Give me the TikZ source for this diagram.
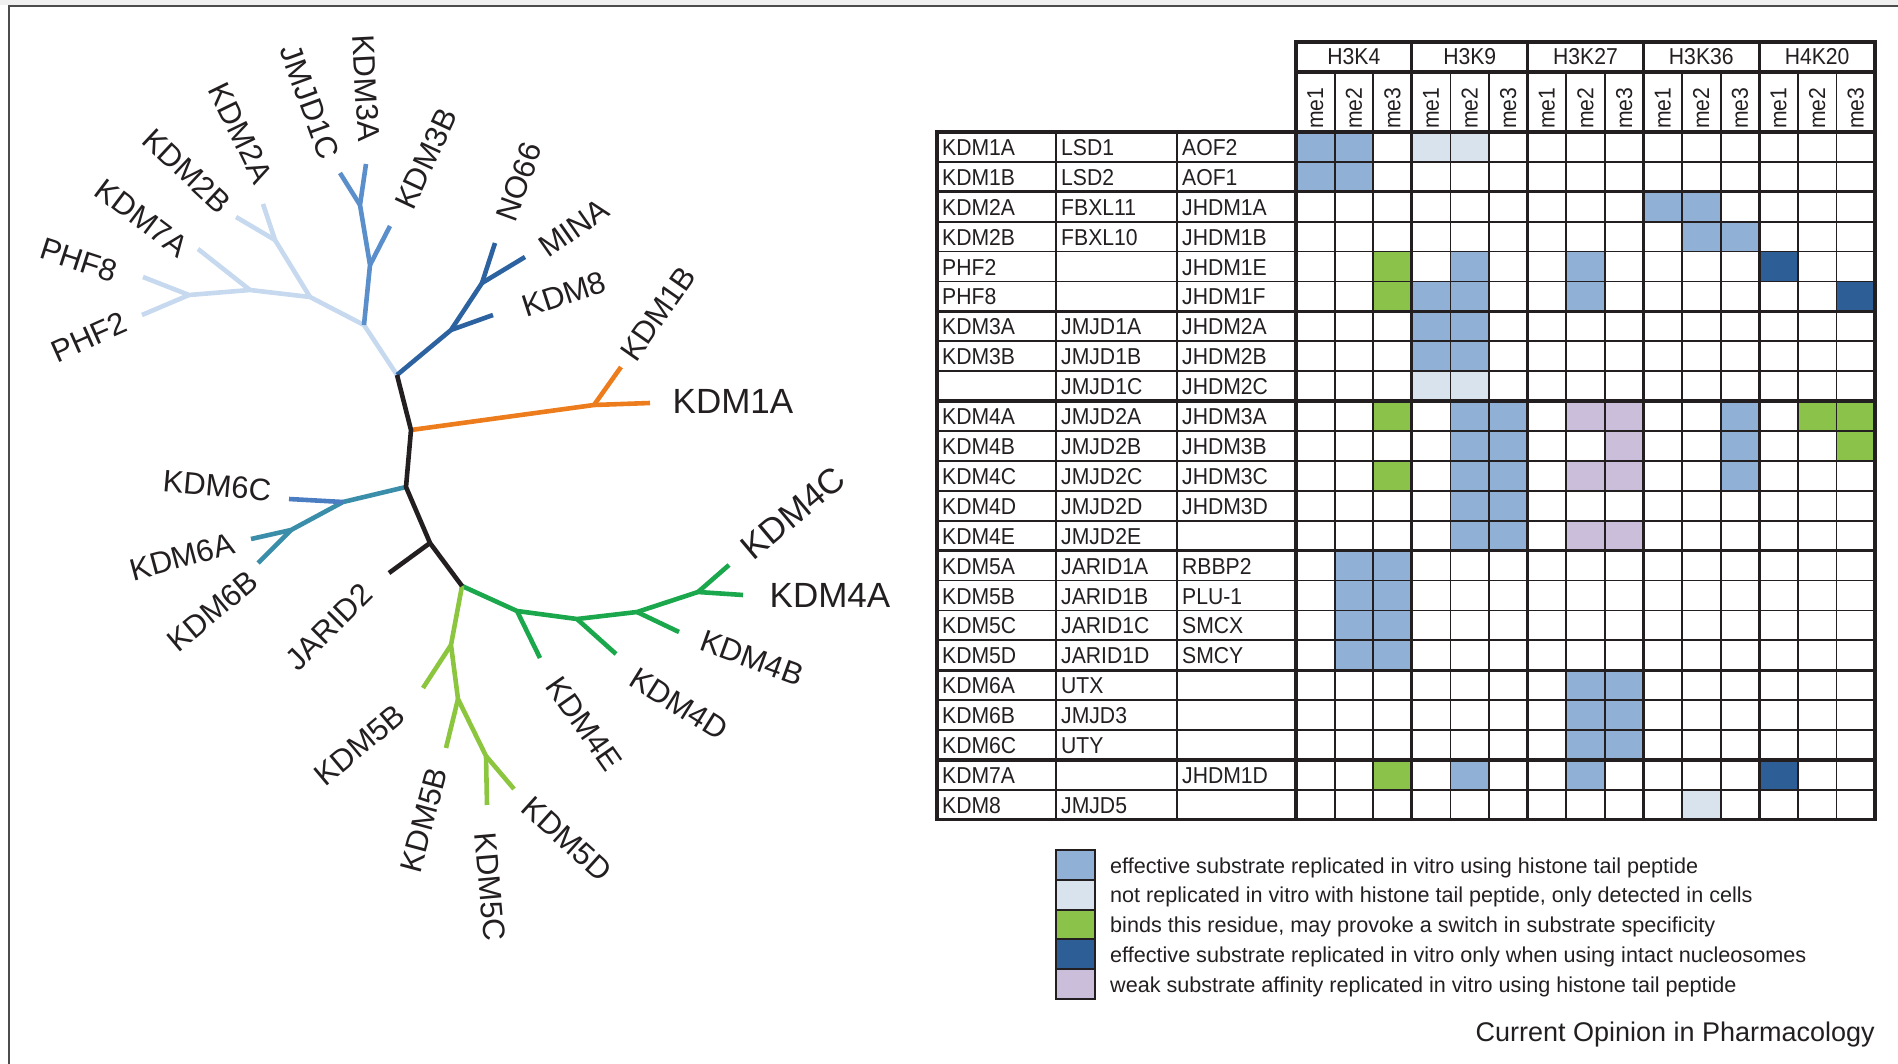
\documentclass[tikz,border=0pt]{standalone}
\usepackage{fontspec}
\setmainfont{Liberation Sans}
\newfontfamily\tabfont[FakeStretch=0.92]{Liberation Sans}

\definecolor{treeblack}{HTML}{231F20}
\definecolor{lblue}{HTML}{C6D9EF}
\definecolor{mblue}{HTML}{5B8FCB}
\definecolor{dblue}{HTML}{2C62A0}
\definecolor{orng}{HTML}{EC7C1C}
\definecolor{teal6}{HTML}{3A8EA9}
\definecolor{blue6}{HTML}{4A7DC2}
\definecolor{dgreen}{HTML}{1BA84D}
\definecolor{lgreen}{HTML}{8CC63F}
\definecolor{cellB}{HTML}{90B0D6}
\definecolor{cellL}{HTML}{D9E3EE}
\definecolor{cellG}{HTML}{8BC34A}
\definecolor{cellD}{HTML}{2D5F96}
\definecolor{cellP}{HTML}{CBBEDB}

\tikzset{
  branch/.style={line width=4.6pt, line join=round},
  leaflabel/.style={font=\fontsize{31}{31}\selectfont, inner sep=0pt, text=treeblack},
  biglabel/.style={leaflabel, font=\fontsize{35}{35}\selectfont},
  celltext/.style={font=\tabfont\fontsize{23}{23}\selectfont, anchor=base west, inner sep=0pt, text=treeblack},
  melabel/.style={celltext, anchor=west, rotate=90},
  grouplabel/.style={celltext, anchor=center},
  gridthin/.style={line width=1.8pt, treeblack},
  gridthick/.style={line width=3.2pt, treeblack, line cap=rect},
  swatch/.style={line width=2pt, draw=treeblack},
  legtext/.style={font=\fontsize{21.6}{22}\selectfont, anchor=base west, inner sep=0pt, text=treeblack}
}

\begin{document}
\begin{tikzpicture}[x=1pt,y=-1pt]
  \useasboundingbox (0,0) rectangle (1898,1064);
  \fill[gray!12] (0,0) rectangle (1898,5);
  \draw[line width=2pt, gray!60!black] (8.5,1064) -- (8.5,6) -- (1898,6);

  % tree: junctions and leaf ends
  \coordinate (b0) at (397,375);   \coordinate (b1) at (411,430);
  \coordinate (b2) at (406,487);   \coordinate (b3) at (430,543);
  \coordinate (b4) at (462,586);   \coordinate (jarid2) at (389,573);
  \coordinate (lb1) at (364,325);  \coordinate (lb2) at (310,297);
  \coordinate (lb3) at (250,290);  \coordinate (phf) at (189,295);
  \coordinate (phf8) at (143,277); \coordinate (phf2) at (142,315);
  \coordinate (kdm7a) at (198,249);
  \coordinate (j2) at (275,240);   \coordinate (kdm2a) at (263,204);
  \coordinate (kdm2b) at (236,217);
  \coordinate (m1) at (370,265);   \coordinate (m2) at (360,205);
  \coordinate (kdm3a) at (366,164); \coordinate (jmjd1c) at (340,173);
  \coordinate (kdm3b) at (390,226);
  \coordinate (d1) at (451,330);   \coordinate (d2) at (482,283);
  \coordinate (kdm8) at (493,315); \coordinate (no66) at (495,243);
  \coordinate (mina) at (525,257);
  \coordinate (o1) at (594,405);   \coordinate (kdm1a) at (650,403);
  \coordinate (kdm1b) at (621,367);
  \coordinate (t1) at (343,502);   \coordinate (t2) at (291,530);
  \coordinate (kdm6a) at (251,539); \coordinate (kdm6b) at (258,563);
  \coordinate (kdm6c) at (289,499);
  \coordinate (g1) at (517,611);   \coordinate (g2) at (577,619);
  \coordinate (g3) at (637,612);   \coordinate (g4) at (698,592);
  \coordinate (kdm4a) at (743,595); \coordinate (kdm4c) at (729,565);
  \coordinate (kdm4b) at (679,632); \coordinate (kdm4d) at (616,654);
  \coordinate (kdm4e) at (540,658);
  \coordinate (k1) at (451,645);   \coordinate (k2) at (458,699);
  \coordinate (k3) at (486,756);   \coordinate (kdm5c) at (487,805);
  \coordinate (kdm5d) at (514,789); \coordinate (kdm5bb) at (446,748);
  \coordinate (kdm5ba) at (423,688);

  \draw[branch, lblue] (b0) -- (lb1) -- (lb2) -- (lb3) -- (phf) -- (phf8);
  \draw[branch, lblue] (phf) -- (phf2);
  \draw[branch, lblue] (lb3) -- (kdm7a);
  \draw[branch, lblue] (lb2) -- (j2) -- (kdm2a);
  \draw[branch, lblue] (j2) -- (kdm2b);
  \draw[branch, mblue] (lb1) -- (m1) -- (m2) -- (kdm3a);
  \draw[branch, mblue] (m2) -- (jmjd1c);
  \draw[branch, mblue] (m1) -- (kdm3b);
  \draw[branch, dblue] (b0) -- (d1) -- (d2) -- (no66);
  \draw[branch, dblue] (d1) -- (kdm8);
  \draw[branch, dblue] (d2) -- (mina);
  \draw[branch, orng] (b1) -- (o1) -- (kdm1a);
  \draw[branch, orng] (o1) -- (kdm1b);
  \draw[branch, teal6] (b2) -- (t1) -- (t2) -- (kdm6a);
  \draw[branch, teal6] (t2) -- (kdm6b);
  \draw[branch, blue6] (t1) -- (kdm6c);
  \draw[branch, dgreen] (b4) -- (g1) -- (g2) -- (g3) -- (g4) -- (kdm4a);
  \draw[branch, dgreen] (g4) -- (kdm4c);
  \draw[branch, dgreen] (g3) -- (kdm4b);
  \draw[branch, dgreen] (g2) -- (kdm4d);
  \draw[branch, dgreen] (g1) -- (kdm4e);
  \draw[branch, lgreen] (b4) -- (k1) -- (k2) -- (k3) -- (kdm5c);
  \draw[branch, lgreen] (k3) -- (kdm5d);
  \draw[branch, lgreen] (k2) -- (kdm5bb);
  \draw[branch, lgreen] (k1) -- (kdm5ba);
  \draw[branch, treeblack] (b0) -- (b1) -- (b2) -- (b3) -- (b4);
  \draw[branch, treeblack] (b3) -- (jarid2);

  % leaf names
  \foreach \n/\x/\y/\a in {PHF8/79/260/-18, PHF2/89/337/24, KDM7A/142/218/-37,
      KDM2B/187/171/-43, KDM2A/241/133/-64, JMJD1C/310/102/-70, KDM3A/366/88/-87,
      KDM3B/426/159/65, NO66/519/182/70, MINA/574/228/35, KDM8/564/294/18,
      KDM1B/658/314/55, KDM6C/217/486/-5, KDM6A/182/557/15, KDM6B/213/611/40,
      JARID2/329/627/45, KDM4B/752/658/-20, KDM4D/679/704/-32, KDM4E/584/724/-55,
      KDM5D/567/839/-42, KDM5C/490/887/-85}
    \node[leaflabel, rotate=\a] (lab\n) at (\x,\y) {\n};
  \node[leaflabel, rotate=40] (labKDM5Ba) at (360,745) {KDM5B};
  \node[leaflabel, rotate=75] (labKDM5Bb) at (424,820) {KDM5B};
  \node[biglabel] (labKDM1A) at (733,401) {KDM1A};
  \node[biglabel] (labKDM4A) at (830,595) {KDM4A};
  \node[biglabel, rotate=40] (labKDM4C) at (793,513) {KDM4C};

  % table cells: row/column/colour
  \foreach \r/\c/\f in {1/1/cellB, 1/2/cellB, 1/4/cellL, 1/5/cellL, 2/1/cellB, 2/2/cellB,
      3/10/cellB, 3/11/cellB, 4/11/cellB, 4/12/cellB,
      5/3/cellG, 5/5/cellB, 5/8/cellB, 5/13/cellD,
      6/3/cellG, 6/4/cellB, 6/5/cellB, 6/8/cellB, 6/15/cellD,
      7/4/cellB, 7/5/cellB, 8/4/cellB, 8/5/cellB, 9/4/cellL, 9/5/cellL,
      10/3/cellG, 10/5/cellB, 10/6/cellB, 10/8/cellP, 10/9/cellP, 10/12/cellB, 10/14/cellG, 10/15/cellG,
      11/5/cellB, 11/6/cellB, 11/9/cellP, 11/12/cellB, 11/15/cellG,
      12/3/cellG, 12/5/cellB, 12/6/cellB, 12/8/cellP, 12/9/cellP, 12/12/cellB,
      13/5/cellB, 13/6/cellB, 14/5/cellB, 14/6/cellB, 14/8/cellP, 14/9/cellP,
      15/2/cellB, 15/3/cellB, 16/2/cellB, 16/3/cellB, 17/2/cellB, 17/3/cellB, 18/2/cellB, 18/3/cellB,
      19/8/cellB, 19/9/cellB, 20/8/cellB, 20/9/cellB, 21/8/cellB, 21/9/cellB,
      22/3/cellG, 22/5/cellB, 22/8/cellB, 22/13/cellD, 23/11/cellL}
    \fill[\f] ({1296+(\c-1)*38.6},{132+(\r-1)*29.9}) rectangle ++(38.6,29.9);

  % grid
  \foreach \r in {1,...,22}
    \draw[gridthin] (937,{132+\r*29.9}) -- (1875,{132+\r*29.9});
  \foreach \c in {1,...,14}
    \draw[gridthin] ({1296+\c*38.6},72) -- ({1296+\c*38.6},819.7);
  \draw[gridthin] (1056,132) -- (1056,819.7);
  \draw[gridthin] (1177,132) -- (1177,819.7);
  \foreach \r in {0,2,6,9,14,18,21,23}
    \draw[gridthick] (937,{132+\r*29.9}) -- (1875,{132+\r*29.9});
  \foreach \g in {0,...,5}
    \draw[gridthick] ({1296+3*\g*38.6},42) -- ({1296+3*\g*38.6},819.7);
  \draw[gridthick] (1296,42) -- (1875,42);
  \draw[gridthick] (1296,72) -- (1875,72);
  \draw[gridthick] (937,132) -- (937,819.7);

  % column heads
  \foreach \g/\h in {0/H3K4, 1/H3K9, 2/H3K27, 3/H3K36, 4/H4K20} {
    \node[grouplabel] (grp\g) at ({1296+(3*\g+1.5)*38.6},57) {\h};
    \foreach \m in {1,2,3}
      \node[melabel] (me\g\m) at ({1296+(3*\g+\m-0.5)*38.6},129) {me\m};
  }

  % enzyme names
  \foreach \r/\na/\nb/\nc in {1/KDM1A/LSD1/AOF2, 2/KDM1B/LSD2/AOF1, 3/KDM2A/FBXL11/JHDM1A,
      4/KDM2B/FBXL10/JHDM1B, 5/PHF2/{}/JHDM1E, 6/PHF8/{}/JHDM1F, 7/KDM3A/JMJD1A/JHDM2A,
      8/KDM3B/JMJD1B/JHDM2B, 9/{}/JMJD1C/JHDM2C, 10/KDM4A/JMJD2A/JHDM3A,
      11/KDM4B/JMJD2B/JHDM3B, 12/KDM4C/JMJD2C/JHDM3C, 13/KDM4D/JMJD2D/JHDM3D,
      14/KDM4E/JMJD2E/{}, 15/KDM5A/JARID1A/RBBP2, 16/KDM5B/JARID1B/PLU-1,
      17/KDM5C/JARID1C/SMCX, 18/KDM5D/JARID1D/SMCY, 19/KDM6A/UTX/{}, 20/KDM6B/JMJD3/{},
      21/KDM6C/UTY/{}, 22/KDM7A/{}/JHDM1D, 23/KDM8/JMJD5/{}} {
    \node[celltext] (kdm\r) at (942,{132+(\r-1)*29.9+23.5}) {\na};
    \node[celltext] (alias\r) at (1061,{132+(\r-1)*29.9+23.5}) {\nb};
    \node[celltext] (old\r) at (1182,{132+(\r-1)*29.9+23.5}) {\nc};
  }

  % key
  \foreach \i/\f/\t in {0/cellB/{effective substrate replicated in vitro using histone tail peptide},
      1/cellL/{not replicated in vitro with histone tail peptide, only detected in cells},
      2/cellG/{binds this residue, may provoke a switch in substrate specificity},
      3/cellD/{effective substrate replicated in vitro only when using intact nucleosomes},
      4/cellP/{weak substrate affinity replicated in vitro using histone tail peptide}} {
    \draw[swatch, fill=\f] (1056,{850+\i*29.8}) rectangle ++(39,29.8);
    \node[legtext] (key\i) at (1110,{850+\i*29.8+23}) {\t};
  }

  \node[legtext, anchor=base east, font=\fontsize{27}{27}\selectfont] (source) at (1875,1041)
    {Current Opinion in Pharmacology};
\end{tikzpicture}
\end{document}
